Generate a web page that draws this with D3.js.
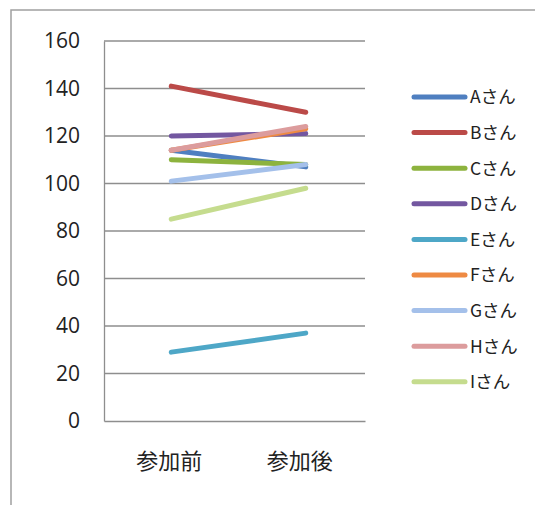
<!DOCTYPE html>
<html>
<head>
<meta charset="utf-8">
<script src="https://cdn.jsdelivr.net/npm/d3@7"></script>
<style>
  html, body { margin: 0; padding: 0; background: #fff; }
  svg { display: block; }
</style>
</head>
<body>
<script>
// Scores before and after taking part, one line per person
const categories = ["参加前", "参加後"];
const people = ["Aさん", "Bさん", "Cさん", "Dさん", "Eさん", "Fさん", "Gさん", "Hさん", "Iさん"];
const before = [114, 141, 110, 120, 29, 114, 101, 114, 85];
const after  = [107, 130, 108, 121, 37, 123, 108, 124, 98];
const colors = ["#4f7fc0", "#bb4a48", "#8db33e", "#7357a0", "#4ea7c7", "#ee8a43", "#a4c0ea", "#dc9c9d", "#c5dc8e"];
const yTicks = [0, 20, 40, 60, 80, 100, 120, 140, 160];

const W = 535, H = 505;
const plot = { left: 104, right: 365, top: 41, bottom: 421 };

const svg = d3.select("body").append("svg").attr("width", W).attr("height", H);

// Chart frame
svg.append("rect")
  .attr("x", 11).attr("y", 10).attr("width", W + 20).attr("height", H + 20)
  .attr("fill", "none").attr("stroke", "#a0a0a0").attr("stroke-width", 1.5);

const x = d3.scaleBand().domain(categories).range([plot.left, plot.right]);
const y = d3.scaleLinear().domain([0, 160]).range([plot.bottom, plot.top]);

// Horizontal gridlines
svg.append("g").selectAll("line").data(yTicks.filter(t => t > 0)).join("line")
  .attr("x1", plot.left).attr("x2", plot.right)
  .attr("y1", d => y(d)).attr("y2", d => y(d))
  .attr("stroke", "#8e8e8e").attr("stroke-width", 1.3);

// Y axis
const yAxis = svg.append("g").attr("transform", `translate(${plot.left},0)`)
  .call(d3.axisLeft(y).tickValues(yTicks).tickSize(0).tickPadding(24));
yAxis.select(".domain").attr("stroke", "#8e8e8e").attr("stroke-width", 1.3);
yAxis.selectAll("text")
  .attr("font-family", "'Open Sans', 'Liberation Sans', sans-serif")
  .attr("font-size", 21).attr("fill", "#222");

// X axis
const xAxis = svg.append("g").attr("transform", `translate(0,${plot.bottom})`)
  .call(d3.axisBottom(x).tickSize(0).tickPadding(32));
xAxis.select(".domain").attr("stroke", "#8e8e8e").attr("stroke-width", 1.3);
xAxis.selectAll("text")
  .attr("font-family", "'Noto Sans CJK JP', sans-serif")
  .attr("font-size", 22).attr("fill", "#222");

// Series lines
const cx = c => x(c) + x.bandwidth() / 2 + (c === categories[1] ? 6 : 2);
const series = people.map((p, i) => ({ name: p, color: colors[i], values: [before[i], after[i]] }));
const line = d3.line().x((d, i) => cx(categories[i])).y(d => y(d));

svg.append("g").selectAll("path").data(series).join("path")
  .attr("d", d => line(d.values))
  .attr("fill", "none")
  .attr("stroke", d => d.color)
  .attr("stroke-width", 5)
  .attr("stroke-linecap", "round");

// Legend
const legend = svg.append("g").selectAll("g").data(series).join("g")
  .attr("transform", (d, i) => `translate(414,${97 + i * 35.6})`);
legend.append("line")
  .attr("x1", 0).attr("x2", 51)
  .attr("stroke", d => d.color).attr("stroke-width", 5).attr("stroke-linecap", "round");
legend.append("text")
  .attr("x", 56).attr("dy", "0.36em")
  .attr("font-family", "'Noto Sans CJK JP', sans-serif")
  .attr("font-size", 17.5).attr("fill", "#222")
  .text(d => d.name);
</script>
</body>
</html>
